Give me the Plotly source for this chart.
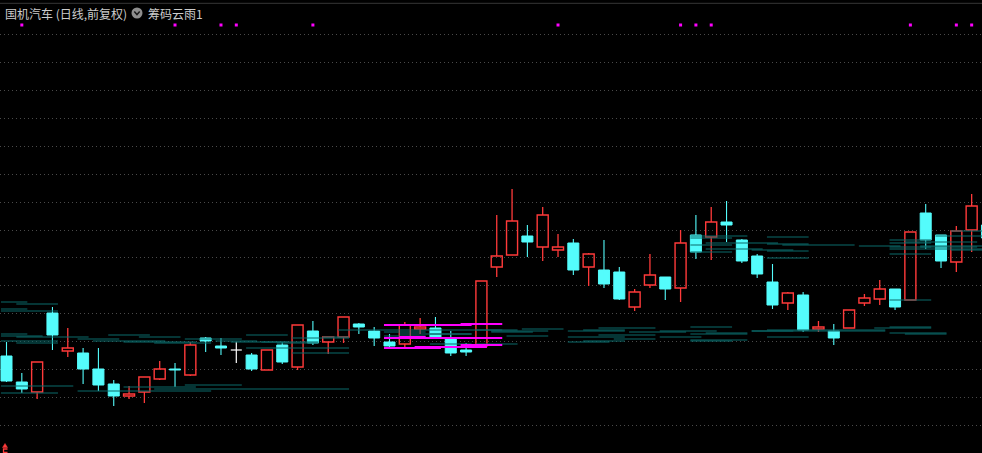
import plotly.graph_objects as go

# ---------------- data ----------------
opens  = [8.44, 8.18, 8.08, 8.87, 8.49, 8.47, 8.31, 8.16, 8.04, 8.08,
          8.21, 8.31, 8.25, 8.62, 8.54, 8.50, 8.45, 8.30, 8.55, 8.33,
          8.69, 8.58, 8.63, 8.76, 8.69, 8.58, 8.56, 8.71, 8.72, 8.61,
          8.50, 8.54, 9.33, 9.45, 9.64, 9.53, 9.50, 9.57, 9.33, 9.30,
          9.28, 8.93, 9.15, 9.23, 9.12, 9.65, 9.63, 9.78, 9.60, 9.44,
          9.18, 8.97, 9.05, 8.71, 8.69, 8.72, 8.97, 9.01, 9.11, 9.00,
          9.87, 9.65, 9.38, 9.70, 9.75]
highs  = [8.58, 8.27, 8.38, 8.93, 8.72, 8.52, 8.52, 8.20, 8.14, 8.23,
          8.39, 8.37, 8.58, 8.63, 8.62, 8.58, 8.47, 8.50, 8.58, 8.75,
          8.79, 8.63, 8.83, 8.77, 8.73, 8.66, 8.78, 8.82, 8.83, 8.69,
          8.57, 9.19, 9.85, 10.11, 9.75, 9.93, 9.66, 9.61, 9.47, 9.60,
          9.33, 9.11, 9.46, 9.23, 9.70, 9.85, 9.93, 9.99, 9.61, 9.46,
          9.36, 9.08, 9.08, 8.79, 8.76, 8.90, 9.06, 9.20, 9.11, 9.68,
          9.96, 9.65, 9.74, 10.06, 9.80]
lows   = [8.18, 8.07, 8.01, 8.50, 8.43, 8.16, 8.09, 7.94, 8.01, 7.97,
          8.20, 8.13, 8.24, 8.48, 8.45, 8.37, 8.29, 8.30, 8.36, 8.30,
          8.55, 8.46, 8.57, 8.66, 8.54, 8.53, 8.52, 8.66, 8.61, 8.44,
          8.44, 8.53, 9.23, 9.45, 9.43, 9.39, 9.43, 9.25, 9.14, 9.12,
          9.00, 8.89, 9.12, 9.00, 8.98, 9.41, 9.40, 9.58, 9.37, 9.22,
          8.91, 8.90, 8.68, 8.68, 8.55, 8.72, 8.94, 8.95, 8.90, 9.00,
          9.51, 9.32, 9.28, 9.48, 9.55]
closes = [8.19, 8.11, 8.38, 8.65, 8.52, 8.31, 8.15, 8.04, 8.06, 8.23,
          8.31, 8.30, 8.55, 8.59, 8.52, 8.50, 8.31, 8.50, 8.38, 8.75,
          8.57, 8.63, 8.83, 8.73, 8.62, 8.54, 8.75, 8.73, 8.62, 8.47,
          8.48, 9.19, 9.44, 9.79, 9.58, 9.85, 9.53, 9.30, 9.46, 9.16,
          9.01, 9.08, 9.25, 9.11, 9.57, 9.48, 9.78, 9.75, 9.39, 9.26,
          8.95, 9.07, 8.70, 8.73, 8.62, 8.90, 9.02, 9.11, 8.93, 9.68,
          9.60, 9.39, 9.69, 9.94, 9.62]

# signal dots (candle index) at the top band
signal_idx = [1, 11, 14, 15, 20, 36, 44, 45, 46, 59, 62, 63]
signal_level = 11.75

# chip-distribution segments (first candle, last candle, price)
teal_start = [0, 1, 0, 0, 0, 0, 1, 7, 9, 5, 12, 0, 1, 6, 8, 10, 14, 0, 8, 12,
              5, 10, 0, 16, 21, 19, 15, 17, 18, 16, 19, 22, 25, 26, 28, 25, 28,
              31, 34, 32, 32, 33, 31, 37, 38, 39, 41, 43, 45, 45, 39, 37, 43,
              40, 45, 38, 37, 49, 50, 50, 57, 58, 58, 59, 46, 45, 49,
              45, 45, 46, 45, 46, 49, 45, 50, 50, 51, 50, 50, 56, 58, 59, 58,
              58, 60, 58, 62, 58, 61, 62, 58, 60]
teal_end   = [1, 3, 1, 3, 1, 2, 5, 9, 11, 7, 15, 3, 3, 10, 12, 13, 16, 4, 12, 15,
              13, 22, 3, 18, 22, 22, 18, 20, 20, 22, 22, 32, 27, 30, 30, 27, 30,
              33, 36, 35, 34, 35, 33, 40, 40, 42, 44, 46, 47, 48, 42, 40, 45,
              42, 48, 40, 39, 57, 57, 52, 60, 60, 61, 61, 48, 47, 51,
              48, 47, 50, 47, 49, 51, 47, 52, 52, 55, 52, 52, 58, 60, 63, 60,
              60, 63, 64, 64, 60, 64, 64, 60, 64]
teal_price = [8.98, 8.96, 8.91, 8.89, 8.66, 8.64, 8.63, 8.65, 8.63, 8.61, 8.61,
              8.59, 8.57, 8.59, 8.58, 8.57, 8.59, 8.14, 8.13, 8.15, 8.09, 8.11,
              8.07, 8.65, 8.63, 8.62, 8.58, 8.58, 8.57, 8.52, 8.47, 8.70, 8.68,
              8.66, 8.66, 8.64, 8.56, 8.70, 8.71, 8.69, 8.68, 8.64, 8.56, 8.69,
              8.70, 8.72, 8.68, 8.69, 8.73, 8.66, 8.65, 8.63, 8.63, 8.61, 8.60,
              8.59, 8.58, 8.69, 8.70, 8.63, 8.72, 8.73, 8.67, 8.66, 8.67, 8.59,
              8.69, 9.64, 9.62, 9.57, 9.55, 9.51, 9.50, 9.48, 9.63, 9.56, 9.55,
              9.49, 9.42, 9.54, 9.60, 9.58, 9.57, 9.53, 9.53, 9.51, 9.50, 9.46,
              9.64, 9.69, 9.00, 9.54]

mag_start = [25, 30, 26, 25, 30, 27, 25]
mag_end   = [30, 32, 27, 32, 32, 31, 28]
mag_price = [8.75, 8.76, 8.63, 8.62, 8.55, 8.53, 8.52]

grid_levels = [7.75, 8.03, 8.31, 8.59, 8.87, 9.15, 9.43, 9.70, 9.98,
               10.26, 10.54, 10.82, 11.10, 11.38, 11.66]

title_text = "国机汽车 (日线,前复权)"
indicator_text = "筹码云雨1"

# ---------------- styling ----------------
RED = "#ff3a3a"
CYAN = "#54fcfc"
TEAL = "#0b6a6a"
MAGENTA = "#ff00ff"
BODY_W = 0.72
HALF = BODY_W / 2

W, H = 982, 453

up_x, up_base, up_h = [], [], []
dn_x, dn_base, dn_h = [], [], []
rw_x, rw_y, cw_x, cw_y, ww_x, ww_y = [], [], [], [], [], []

for i, (o, h, l, c) in enumerate(zip(opens, highs, lows, closes)):
    top, bot = max(o, c), min(o, c)
    if c > o:
        up_x.append(i); up_base.append(bot); up_h.append(top - bot)
        if h > top:
            rw_x += [i, i, None]; rw_y += [top, h, None]
        if l < bot:
            rw_x += [i, i, None]; rw_y += [l, bot, None]
    elif c < o:
        dn_x.append(i); dn_base.append(bot); dn_h.append(top - bot)
        cw_x += [i, i, None]; cw_y += [l, h, None]
    else:
        ww_x += [i, i, None, i - HALF, i + HALF, None]
        ww_y += [l, h, None, o, o, None]

def segs(starts, ends, prices):
    xs, ys = [], []
    for a, b, p in zip(starts, ends, prices):
        xs += [a - HALF, b + HALF, None]
        ys += [p, p, None]
    return xs, ys

tx, ty = segs(teal_start, teal_end, teal_price)
mx, my = segs(mag_start, mag_end, mag_price)

fig = go.Figure()
fig.add_trace(go.Scatter(x=rw_x, y=rw_y, mode="lines", line=dict(color=RED, width=1.3)))
fig.add_trace(go.Scatter(x=cw_x, y=cw_y, mode="lines", line=dict(color=CYAN, width=1.1)))
fig.add_trace(go.Scatter(x=ww_x, y=ww_y, mode="lines", line=dict(color="#ffffff", width=1.2)))
fig.add_trace(go.Bar(x=dn_x, y=dn_h, base=dn_base, width=BODY_W,
                     marker=dict(color=CYAN, line=dict(color=CYAN, width=1))))
fig.add_trace(go.Bar(x=up_x, y=up_h, base=up_base, width=BODY_W,
                     marker=dict(color="rgba(0,0,0,0)", line=dict(color=RED, width=1.4))))
fig.add_trace(go.Scatter(x=tx, y=ty, mode="lines", line=dict(color=TEAL, width=1)))
fig.add_trace(go.Scatter(x=mx, y=my, mode="lines", line=dict(color=MAGENTA, width=2)))
fig.add_trace(go.Scatter(x=signal_idx, y=[signal_level] * len(signal_idx), mode="markers",
                         marker=dict(symbol="square", size=3, color=MAGENTA, line=dict(width=0))))

def px(x):
    return x / W

def py(y):
    return 1 - y / H

shapes = [
    dict(type="line", xref="paper", yref="paper", x0=0, x1=1, y0=py(3.3), y1=py(3.3),
         line=dict(color="#363636", width=1)),
    dict(type="circle", xref="paper", yref="paper", x0=px(131.5), x1=px(142.5),
         y0=py(18.5), y1=py(7.5), fillcolor="#8e8e8e", line=dict(width=0)),
    dict(type="path", xref="paper", yref="paper",
         path=f"M {px(134.3)} {py(11.6)} L {px(137)} {py(14.6)} L {px(139.7)} {py(11.6)}",
         line=dict(color="#1a1a1a", width=1.5)),
    dict(type="path", xref="paper", yref="paper",
         path=f"M {px(2.5)} {py(447.5)} L {px(5)} {py(443.5)} L {px(7.5)} {py(447.5)} Z",
         fillcolor=RED, line=dict(color=RED, width=0.5)),
    dict(type="path", xref="paper", yref="paper",
         path=f"M {px(7.5)} {py(449)} L {px(3.5)} {py(449)} L {px(3.5)} {py(452.5)} L {px(7.5)} {py(452.5)}",
         line=dict(color=RED, width=1.3)),
]

annotations = [
    dict(text=title_text, xref="paper", yref="paper", x=px(3), y=py(13), xanchor="left",
         yanchor="middle", showarrow=False,
         font=dict(family="Noto Sans CJK SC", size=12, color="#cccccc")),
    dict(text=indicator_text, xref="paper", yref="paper", x=px(146), y=py(13), xanchor="left",
         yanchor="middle", showarrow=False,
         font=dict(family="Noto Sans CJK SC", size=12, color="#cccccc")),
]

fig.update_layout(
    width=W, height=H,
    margin=dict(l=0, r=0, t=0, b=0, pad=0),
    paper_bgcolor="#000000", plot_bgcolor="#000000",
    showlegend=False, hovermode=False, barmode="overlay",
    shapes=shapes, annotations=annotations,
    xaxis=dict(range=[-0.424, 63.675], showgrid=False, zeroline=False,
               showticklabels=False, ticks="", showline=False, fixedrange=True),
    yaxis=dict(range=[7.47, 12.00], tickmode="array", tickvals=grid_levels,
               showticklabels=False, ticks="", showgrid=True, gridcolor="#4a4a4a",
               griddash="1px,3px", gridwidth=1, zeroline=False, showline=False,
               fixedrange=True),
)

fig.write_html("out.html", config={"displayModeBar": False},
               post_script="document.body.style.margin='0';document.body.style.overflow='hidden';document.body.style.background='#000';")
